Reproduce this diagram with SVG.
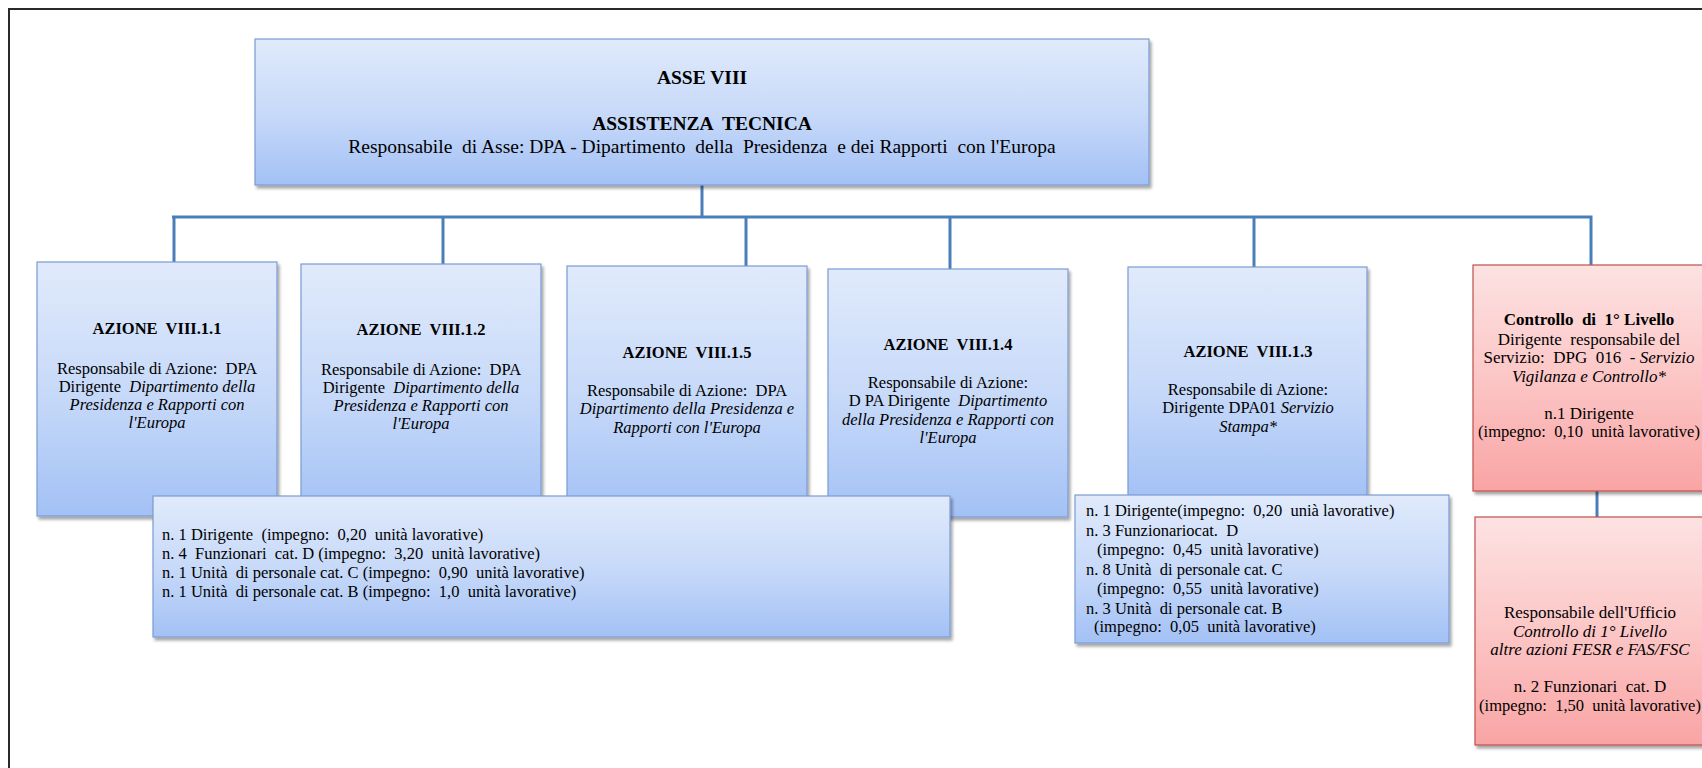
<svg xmlns="http://www.w3.org/2000/svg" width="1702" height="768" viewBox="0 0 1702 768" font-family="'Liberation Serif', 'Times New Roman', serif">
<defs>
<linearGradient id="gb" x1="0" y1="0" x2="0" y2="1">
<stop offset="0" stop-color="#e0eafb"/>
<stop offset="0.5" stop-color="#c8daf9"/>
<stop offset="1" stop-color="#a3c1f5"/>
</linearGradient>
<linearGradient id="gr" x1="0" y1="0" x2="0" y2="1">
<stop offset="0" stop-color="#fde2e2"/>
<stop offset="0.5" stop-color="#fcc6c6"/>
<stop offset="1" stop-color="#f9a4a4"/>
</linearGradient>
<filter id="sh" x="-5%" y="-5%" width="115%" height="120%">
<feDropShadow dx="2" dy="3" stdDeviation="1.6" flood-color="#000" flood-opacity="0.35"/>
</filter>
</defs>
<style>
.bx{fill:url(#gb);stroke:#7b9cd2;stroke-width:1.2;filter:url(#sh)}
.rx{fill:url(#gr);stroke:#c0504d;stroke-width:1.2;filter:url(#sh)}
.cn{fill:none;stroke:#4a7ebb;stroke-width:3}
text{font-family:"Liberation Serif","Times New Roman",serif;font-size:16.5px;fill:#000;white-space:pre}
.c{text-anchor:middle}
.b{font-weight:bold}
.t{font-size:19.5px}
.r{font-size:17px}
.i{font-style:italic}
</style>
<path d="M9,780 V9 H1720" fill="none" stroke="#2a2a2a" stroke-width="2"/>

<g id="connectors">
<path class="cn" d="M702,185 V217"/>
<path class="cn" d="M172,217 H1591 V265"/>
<path class="cn" d="M174,217 V262"/>
<path class="cn" d="M443,217 V264"/>
<path class="cn" d="M746,217 V266"/>
<path class="cn" d="M950,217 V269"/>
<path class="cn" d="M1254,217 V267"/>
<path class="cn" d="M1597,491 V517"/>
</g>

<g id="asse">
<rect class="bx" x="255" y="39" width="894" height="146"/>
<text class="c b t" x="702" y="84">ASSE VIII</text>
<text class="c b t" x="702" y="130">ASSISTENZA  TECNICA</text>
<text class="c t" x="702" y="153">Responsabile  di Asse: DPA - Dipartimento  della  Presidenza  e dei Rapporti  con l'Europa</text>
</g>

<g id="azione-1-1">
<rect class="bx" x="37" y="262" width="240" height="254"/>
<text class="c b" x="157" y="334">AZIONE  VIII.1.1</text>
<text class="c" x="157" y="374">Responsabile di Azione:  DPA</text>
<text class="c" x="157" y="392">Dirigente  <tspan class="i">Dipartimento della</tspan></text>
<text class="c i" x="157" y="410">Presidenza e Rapporti con</text>
<text class="c i" x="157" y="428">l'Europa</text>
</g>

<g id="azione-1-2">
<rect class="bx" x="301" y="264" width="240" height="252"/>
<text class="c b" x="421" y="335">AZIONE  VIII.1.2</text>
<text class="c" x="421" y="375">Responsabile di Azione:  DPA</text>
<text class="c" x="421" y="393">Dirigente  <tspan class="i">Dipartimento della</tspan></text>
<text class="c i" x="421" y="411">Presidenza e Rapporti con</text>
<text class="c i" x="421" y="429">l'Europa</text>
</g>

<g id="azione-1-5">
<rect class="bx" x="567" y="266" width="240" height="250"/>
<text class="c b" x="687" y="358">AZIONE  VIII.1.5</text>
<text class="c" x="687" y="396">Responsabile di Azione:  DPA</text>
<text class="c i" x="687" y="414">Dipartimento della Presidenza e</text>
<text class="c i" x="687" y="433">Rapporti con l'Europa</text>
</g>

<g id="azione-1-4">
<rect class="bx" x="828" y="269" width="240" height="248"/>
<text class="c b" x="948" y="350">AZIONE  VIII.1.4</text>
<text class="c" x="948" y="388">Responsabile di Azione:</text>
<text class="c" x="948" y="406">D PA Dirigente  <tspan class="i">Dipartimento</tspan></text>
<text class="c i" x="948" y="425">della Presidenza e Rapporti con</text>
<text class="c i" x="948" y="443">l'Europa</text>
</g>

<g id="azione-1-3">
<rect class="bx" x="1128" y="267" width="239" height="233"/>
<text class="c b" x="1248" y="357">AZIONE  VIII.1.3</text>
<text class="c" x="1248" y="395">Responsabile di Azione:</text>
<text class="c" x="1248" y="413">Dirigente DPA01 <tspan class="i">Servizio</tspan></text>
<text class="c i" x="1248" y="432">Stampa*</text>
</g>

<g id="personale-1">
<rect class="bx" x="153" y="496" width="797" height="141"/>
<text x="162" y="540">n. 1 Dirigente  (impegno:  0,20  unità lavorative)</text>
<text x="162" y="559">n. 4  Funzionari  cat. D (impegno:  3,20  unità lavorative)</text>
<text x="162" y="578">n. 1 Unità  di personale cat. C (impegno:  0,90  unità lavorative)</text>
<text x="162" y="597">n. 1 Unità  di personale cat. B (impegno:  1,0  unità lavorative)</text>
</g>

<g id="personale-1-3">
<rect class="bx" x="1075" y="495" width="374" height="148"/>
<text x="1086" y="516">n. 1 Dirigente(impegno:  0,20  unià lavorative)</text>
<text x="1086" y="536">n. 3 Funzionariocat.  D</text>
<text x="1097" y="555">(impegno:  0,45  unità lavorative)</text>
<text x="1086" y="575">n. 8 Unità  di personale cat. C</text>
<text x="1097" y="594">(impegno:  0,55  unità lavorative)</text>
<text x="1086" y="614">n. 3 Unità  di personale cat. B</text>
<text x="1094" y="632">(impegno:  0,05  unità lavorative)</text>
</g>

<g id="controllo">
<rect class="rx" x="1473" y="265" width="232" height="226"/>
<text class="c b r" x="1589" y="325">Controllo  di  1° Livello</text>
<text class="c r" x="1589" y="345">Dirigente  responsabile del</text>
<text class="c r" x="1589" y="363">Servizio:  DPG  016  - <tspan class="i">Servizio</tspan></text>
<text class="c i r" x="1589" y="382">Vigilanza e Controllo*</text>
<text class="c r" x="1589" y="419">n.1 Dirigente</text>
<text class="c" x="1589" y="437">(impegno:  0,10  unità lavorative)</text>
</g>

<g id="ufficio">
<rect class="rx" x="1475" y="517" width="230" height="228"/>
<text class="c r" x="1590" y="618">Responsabile dell'Ufficio</text>
<text class="c i r" x="1590" y="637">Controllo di 1° Livello</text>
<text class="c i r" x="1590" y="655">altre azioni FESR e FAS/FSC</text>
<text class="c r" x="1590" y="692">n. 2 Funzionari  cat. D</text>
<text class="c" x="1590" y="711">(impegno:  1,50  unità lavorative)</text>
</g>
</svg>
